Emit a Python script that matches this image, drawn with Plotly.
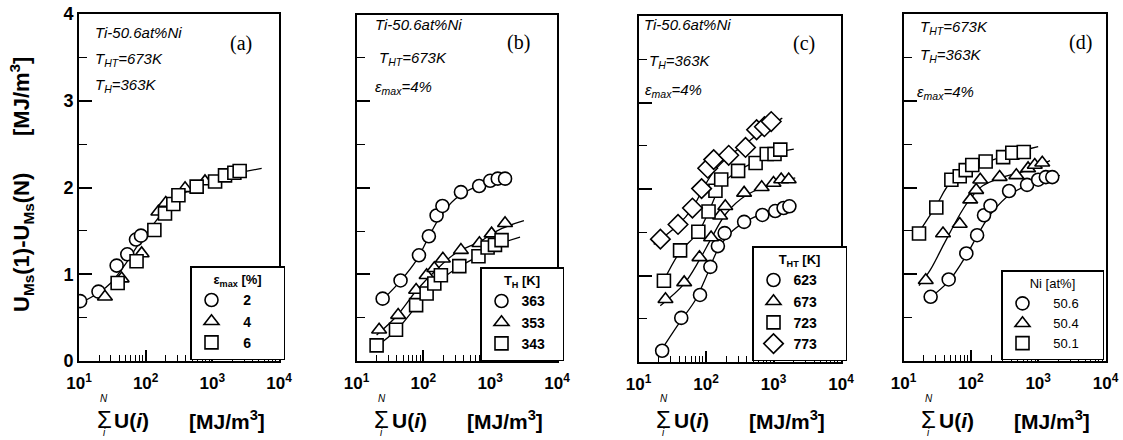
import plotly.graph_objects as go

W, H = 1123, 440

# ---------------- data ----------------
# panel (a): eps_max [%]
a_c_x = [10.4, 19.6, 36.7, 53, 71.6, 85]
a_c_y = [0.69, 0.80, 1.10, 1.23, 1.40, 1.445]
a_t_x = [24.5, 43.6, 87, 155, 200, 390, 776, 1830]
a_t_y = [0.74, 0.95, 1.24, 1.72, 1.82, 1.99, 2.07, 2.16]
a_s_x = [38, 73, 135, 195, 260, 310, 582, 1100, 1550, 2140, 2570]
a_s_y = [0.90, 1.15, 1.51, 1.70, 1.81, 1.91, 2.01, 2.07, 2.14, 2.17, 2.19]
a_fit_x = [10, 20, 30, 50, 80, 120, 200, 350, 700, 1500, 5500]
a_fit_y = [0.66, 0.79, 0.90, 1.12, 1.36, 1.54, 1.75, 1.92, 2.04, 2.13, 2.22]
a_names = ["2", "4", "6"]

# panel (b): T_H [K]
b_c_x = [24.6, 45.6, 86, 121, 158, 193, 365, 684, 1000, 1300, 1670]
b_c_y = [0.72, 0.93, 1.22, 1.44, 1.68, 1.79, 1.95, 2.02, 2.08, 2.105, 2.105]
b_t_x = [21.8, 42, 78, 112, 146, 196, 365, 690, 1050, 1670]
b_t_y = [0.36, 0.53, 0.82, 0.99, 1.07, 1.18, 1.28, 1.36, 1.47, 1.59]
b_s_x = [20, 39, 78, 112, 146, 183, 345, 668, 915, 1180, 1480]
b_s_y = [0.18, 0.36, 0.645, 0.78, 0.895, 0.99, 1.095, 1.21, 1.31, 1.34, 1.395]
b_fc_x = [24, 45, 80, 120, 180, 300, 600, 1200, 2100]
b_fc_y = [0.70, 0.92, 1.17, 1.43, 1.67, 1.87, 2.01, 2.09, 2.13]
b_ft_x = [20, 40, 80, 150, 300, 700, 1500, 3200]
b_ft_y = [0.30, 0.52, 0.82, 1.04, 1.24, 1.38, 1.53, 1.62]
b_fs_x = [20, 40, 80, 150, 300, 700, 1500, 2800]
b_fs_y = [0.17, 0.36, 0.64, 0.88, 1.06, 1.22, 1.36, 1.43]
b_names = ["363", "353", "343"]

# panel (c): T_HT [K]
c_c_x = [22.4, 43, 81.5, 116, 150, 189, 367, 684, 1060, 1410, 1720]
c_c_y = [0.13, 0.51, 0.775, 1.10, 1.34, 1.49, 1.62, 1.70, 1.745, 1.78, 1.80]
c_t_x = [25.1, 47.5, 80, 119, 162, 193, 367, 668, 1000, 1300, 1680]
c_t_y = [0.725, 0.92, 1.21, 1.44, 1.69, 1.80, 1.955, 2.02, 2.07, 2.11, 2.11]
c_s_x = [23.8, 41.3, 77, 109, 138, 168, 299, 543, 795, 1035, 1260]
c_s_y = [0.94, 1.29, 1.505, 1.74, 1.98, 2.11, 2.21, 2.30, 2.405, 2.405, 2.455]
c_d_x = [21.1, 38.5, 63, 86, 106, 130, 217, 385, 562, 733, 925]
c_d_y = [1.42, 1.59, 1.78, 2.005, 2.24, 2.34, 2.39, 2.48, 2.685, 2.72, 2.78]
c_fc_x = [21, 40, 70, 100, 150, 250, 500, 1000, 2100]
c_fc_y = [0.12, 0.45, 0.72, 0.98, 1.30, 1.52, 1.67, 1.75, 1.82]
c_ft_x = [21, 47, 80, 120, 200, 400, 1000, 2100]
c_ft_y = [0.65, 0.90, 1.18, 1.43, 1.72, 1.93, 2.06, 2.13]
c_fs_x = [23, 41, 77, 110, 170, 300, 600, 1300, 2000]
c_fs_y = [0.92, 1.27, 1.50, 1.74, 2.05, 2.21, 2.33, 2.43, 2.46]
c_fd_x = [16.8, 38, 63, 90, 130, 220, 400, 750, 1350]
c_fd_y = [1.36, 1.58, 1.78, 2.00, 2.20, 2.38, 2.53, 2.70, 2.82]
c_names = ["623", "673", "723", "773"]

# panel (d): Ni [at%]
d_c_x = [25.3, 46.9, 85.7, 124, 157, 196, 370, 684, 1000, 1300, 1620]
d_c_y = [0.74, 0.94, 1.24, 1.45, 1.68, 1.79, 1.96, 2.03, 2.09, 2.12, 2.12]
d_t_x = [21.4, 38.6, 68.4, 98, 120, 138, 268, 474, 708, 890, 1150]
d_t_y = [0.93, 1.47, 1.58, 1.86, 1.97, 2.09, 2.12, 2.14, 2.22, 2.26, 2.285]
d_s_x = [17, 30.7, 51.4, 68.4, 84, 105, 166, 302, 413, 611]
d_s_y = [1.47, 1.77, 2.09, 2.13, 2.20, 2.26, 2.30, 2.35, 2.40, 2.41]
d_fc_x = [21.5, 47, 86, 130, 200, 400, 800, 2100]
d_fc_y = [0.69, 0.92, 1.22, 1.47, 1.70, 1.93, 2.04, 2.14]
d_ft_x = [17, 25, 40, 70, 100, 150, 300, 700, 1500]
d_ft_y = [0.87, 1.05, 1.35, 1.70, 1.88, 2.02, 2.12, 2.20, 2.31]
d_fs_x = [15.5, 30, 50, 100, 200, 400, 1000]
d_fs_y = [1.44, 1.78, 2.06, 2.22, 2.31, 2.39, 2.47]
d_names = ["50.6", "50.4", "50.1"]

x_tickvals = [10, 100, 1000, 10000]
x_ticktext = ["10<sup>1</sup>", "10<sup>2</sup>", "10<sup>3</sup>", "10<sup>4</sup>"]
x_minor = [m * 10 ** k for k in (1, 2, 3) for m in range(2, 10)]
y_tickvals = [0, 1, 2, 3, 4]
y_minor = [0.5, 1.5, 2.5, 3.5]

# ---------------- layout geometry (pixels) ----------------
panels = [  # left, right, top, bottom
    (79, 279, 14, 361),
    (356.5, 557, 14.5, 361),
    (638.5, 841, 16, 362),
    (903.5, 1105.5, 14, 361),
]

def px(x):
    return x / W

def py(y):
    return 1 - y / H

NB = "\u00a0"

def pad(s, before, after):
    return NB * before + s + NB * after

FONT = "Arial, Liberation Sans, sans-serif"
SERIF = "Times New Roman, Liberation Serif, serif"

fig = go.Figure()

MK = dict(size=13, color="white", line=dict(color="black", width=1.6))

def add_panel(i, fits, series, legend_name):
    xa = "x" if i == 0 else f"x{i+1}"
    ya = "y" if i == 0 else f"y{i+1}"
    for fx, fy in fits:
        fig.add_trace(go.Scatter(x=fx, y=fy, mode="lines", line=dict(color="black", width=1.3, shape="spline", smoothing=1.0),
                                 xaxis=xa, yaxis=ya, showlegend=False, hoverinfo="skip"))
    for sx, sy, sym, name in series:
        m = dict(MK)
        m["symbol"] = sym
        if sym == "diamond":
            m["size"] = 15
        fig.add_trace(go.Scatter(x=sx, y=sy, mode="markers", marker=m, name=name,
                                 xaxis=xa, yaxis=ya, legend=legend_name))

add_panel(0, [(a_fit_x, a_fit_y)],
          [(a_c_x, a_c_y, "circle", pad(a_names[0], 3, 7)), (a_t_x, a_t_y, "triangle-up", pad(a_names[1], 3, 7)),
           (a_s_x, a_s_y, "square", pad(a_names[2], 3, 7))], "legend")
add_panel(1, [(b_fc_x, b_fc_y), (b_ft_x, b_ft_y), (b_fs_x, b_fs_y)],
          [(b_c_x, b_c_y, "circle", pad(b_names[0], 0, 3)), (b_t_x, b_t_y, "triangle-up", pad(b_names[1], 0, 3)),
           (b_s_x, b_s_y, "square", pad(b_names[2], 0, 3))], "legend2")
add_panel(2, [(c_fc_x, c_fc_y), (c_ft_x, c_ft_y), (c_fs_x, c_fs_y), (c_fd_x, c_fd_y)],
          [(c_c_x, c_c_y, "circle", pad(c_names[0], 0, 6)), (c_t_x, c_t_y, "triangle-up", pad(c_names[1], 0, 6)),
           (c_s_x, c_s_y, "square", pad(c_names[2], 0, 6)), (c_d_x, c_d_y, "diamond", pad(c_names[3], 0, 6))], "legend3")
add_panel(3, [(d_fc_x, d_fc_y), (d_ft_x, d_ft_y), (d_fs_x, d_fs_y)],
          [(d_c_x, d_c_y, "circle", pad(d_names[0], 3, 5)), (d_t_x, d_t_y, "triangle-up", pad(d_names[1], 3, 5)),
           (d_s_x, d_s_y, "square", pad(d_names[2], 3, 5))], "legend4")

layout = dict(
    width=W, height=H, margin=dict(l=0, r=0, t=0, b=0, autoexpand=False),
    paper_bgcolor="white", plot_bgcolor="white",
    font=dict(family=FONT, color="black"),
)

for i, (l, r, t, b) in enumerate(panels):
    xk = "xaxis" if i == 0 else f"xaxis{i+1}"
    yk = "yaxis" if i == 0 else f"yaxis{i+1}"
    layout[xk] = dict(
        type="log", range=[1, 4], domain=[px(l), px(r)], anchor="y" if i == 0 else f"y{i+1}",
        tickvals=x_tickvals, ticktext=x_ticktext, ticks="inside", ticklen=11, tickwidth=1.5, tickcolor="black",
        minor=dict(tickvals=x_minor, ticks="inside", ticklen=6, tickwidth=1, tickcolor="black"),
        showline=True, linewidth=2, linecolor="black", mirror=True, showgrid=False, zeroline=False,
        tickfont=dict(size=17, family=FONT, weight="bold"), ticklabelstandoff=6, fixedrange=True, automargin=False,
    )
    layout[yk] = dict(
        range=[0, 4], domain=[py(b), py(t)], anchor="x" if i == 0 else f"x{i+1}",
        tickvals=y_tickvals, ticks="inside", ticklen=13, tickwidth=1.5, tickcolor="black",
        minor=dict(tickvals=y_minor, ticks="inside", ticklen=8, tickwidth=1, tickcolor="black"),
        showline=True, linewidth=2, linecolor="black", mirror=True, showgrid=False, zeroline=False,
        showticklabels=(i == 0), tickfont=dict(size=18, family=FONT, weight="bold"), fixedrange=True, automargin=False,
    )

legend_boxes = [
    ("legend", 190, 266, "ε<sub>max</sub> [%]", "bold", 14),
    ("legend2", 480, 267, "T<sub>H</sub> [K]", "bold", 14),
    ("legend3", 752, 246, "T<sub>HT</sub> [K]", "bold", 14),
    ("legend4", 1001, 270, "Ni [at%]", "normal", 13),
]
for key, lx, ly, title, wt, fs in legend_boxes:
    layout[key] = dict(
        x=px(lx), y=py(ly), xanchor="left", yanchor="top",
        bgcolor="white", bordercolor="black", borderwidth=1.5,
        font=dict(size=fs, family=FONT, weight=wt), itemwidth=30, tracegroupgap=0,
        title=dict(text=title, side="top center", font=dict(size=13, family=FONT, weight=wt)),
    )

fig.update_layout(**layout)

ann = []

def text(x, y, s, size=15, family=FONT, xanchor="left", yanchor="middle", **kw):
    ann.append(dict(x=px(x), y=py(y), xref="paper", yref="paper", text=s, showarrow=False,
                    xanchor=xanchor, yanchor=yanchor, font=dict(size=size, family=family, color="black", **kw)))

# in-panel condition texts
text(93, 33, "<i>Ti-50.6at%Ni</i>")
text(93, 60, "<i>T<sub>HT</sub>=673K</i>")
text(93, 86, "<i>T<sub>H</sub>=363K</i>")
text(241, 43, "(a)", size=20, family=SERIF, xanchor="center")

text(373, 25, "<i>Ti-50.6at%Ni</i>")
text(377, 59, "<i>T<sub>HT</sub>=673K</i>")
text(373, 87, "<i>ε<sub>max</sub>=4%</i>")
text(518, 42, "(b)", size=20, family=SERIF, xanchor="center")

text(642, 25, "<i>Ti-50.6at%Ni</i>")
text(647, 62, "<i>T<sub>H</sub>=363K</i>")
text(643, 90, "<i>ε<sub>max</sub>=4%</i>")
text(804, 43, "(c)", size=20, family=SERIF, xanchor="center")

text(918, 27, "<i>T<sub>HT</sub>=673K</i>")
text(918, 55, "<i>T<sub>H</sub>=363K</i>")
text(915, 92, "<i>ε<sub>max</sub>=4%</i>")
text(1080, 42, "(d)", size=20, family=SERIF, xanchor="center")

# x-axis titles
for (l, r, t, b) in panels:
    text(l + 25, 419, "Σ", size=24, xanchor="center")
    text(l + 25, 398, "<i>N</i>", size=10, xanchor="center")
    text(l + 25, 432, "<i>i</i>", size=10, xanchor="center")
    text(l + 33, 420, "<b>U(<i>i</i>)</b>", size=21, xanchor="left")
    text(l + 148, 420, "<b>[MJ/m<sup>3</sup>]</b>", size=21, xanchor="center")

# y-axis title
ann.append(dict(x=px(22), y=py(185), xref="paper", yref="paper", showarrow=False, textangle=-90,
                text="<b>U<sub>Ms</sub>(1)-U<sub>Ms</sub>(N)      [MJ/m<sup>3</sup>]</b>",
                xanchor="center", yanchor="middle", font=dict(size=22, family=FONT, color="black")))

fig.update_layout(annotations=ann)
fig.write_html("out.html", config={"displayModeBar": False},
               post_script="document.body.style.margin='0px';document.body.style.padding='0px';")
